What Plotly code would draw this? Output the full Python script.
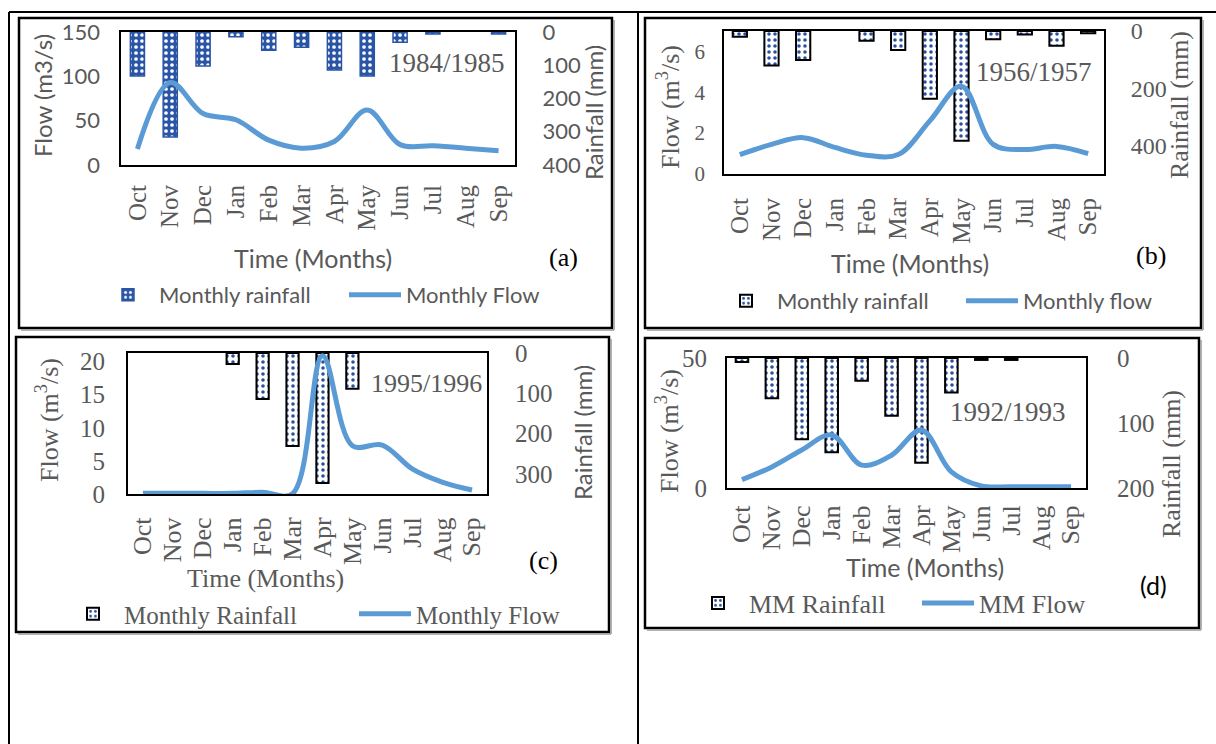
import plotly.graph_objects as go

# ---------------- data ----------------
months = ["Oct", "Nov", "Dec", "Jan", "Feb", "Mar", "Apr", "May", "Jun", "Jul", "Aug", "Sep"]

# (a) 1984/1985
rain_a = [132, 316, 102, 14, 55, 46, 114, 132, 31, 6, 0, 6]
flow_a = [18, 93, 58, 51, 28, 19, 26.5, 62, 23, 21.6, 19, 16]
flow_ticks_a = [0, 50, 100, 150]
rain_ticks_a = [0, 100, 200, 300, 400]

# (b) 1956/1957
rain_b = [20, 121, 101, 0, 34, 66, 237, 384, 29, 12, 52, 8]
flow_b = [0.95, 1.45, 1.78, 1.3, 0.92, 0.95, 2.6, 4.3, 1.45, 1.2, 1.35, 1.0]
flow_ticks_b = [0, 2, 4, 6]
rain_ticks_b = [0, 200, 400]

# (c) 1995/1996
rain_c = [0, 0, 0, 27, 114, 231, 323, 89, 0, 0, 0, 0]
flow_c = [0.1, 0.1, 0.1, 0.1, 0.25, 0.05, 20.9, 7.3, 7.4, 3.8, 1.8, 0.6]
flow_ticks_c = [0, 5, 10, 15, 20]
rain_ticks_c = [0, 100, 200, 300]

# (d) 1992/1993
rain_d = [6, 62, 125, 145, 35, 89, 161, 53, 3, 3, 0, 0]
flow_d = [3.2, 8.1, 14.6, 20.4, 8.8, 12.6, 22.3, 6.2, 0.8, 0.5, 0.5, 0.5]
flow_ticks_d = [0, 50]
rain_ticks_d = [0, 100, 200]

# ---------------- styling / layout ----------------
W, H = 1216, 744
SERIF = "Liberation Serif, Times New Roman, serif"
SANS = "Lato, Carlito, Calibri, sans-serif"
GRAY = "#595959"
LINE_BLUE = "#5B9BD5"
DOT_BLUE = "#2A4FA0"
A_BLUE = "#2A55A5"


def fx(px):
    return px / W


def fy(py):
    return 1 - py / H


panels = [
    dict(rain=rain_a, flow=flow_a, rain_name="Monthly rainfall", flow_name="Monthly Flow",
         box=(121, 32, 515, 165), flow_max=150, rain_max=400,
         flow_ticks=flow_ticks_a, rain_ticks=rain_ticks_a,
         lfont=(SANS, 22), rfont=(SANS, 22), mfont=(SERIF, 25),
         lgap=20, rgap=21, mgap=8, bar_w=0.43,
         bar_style="a",
         leg_font=(SANS, 22), leg=((159, 295), (406, 295)),
         texts=[
             ("Flow (m3/s)", 42, 96, SANS, 24, GRAY, -90),
             ("Rainfall (mm)", 594, 113, SANS, 24, GRAY, -90),
             ("Time (Months)", 313, 258, SANS, 25, GRAY, 0),
             ("(a)", 563, 257, SERIF, 26, "black", 0),
             ("1984/1985", 447, 63, SERIF, 27, GRAY, 0),
         ]),
    dict(rain=rain_b, flow=flow_b, rain_name="Monthly rainfall", flow_name="Monthly flow",
         box=(724, 31, 1104, 174), flow_max=7, rain_max=500,
         flow_ticks=flow_ticks_b, rain_ticks=rain_ticks_b,
         lfont=(SERIF, 21), rfont=(SERIF, 24), mfont=(SERIF, 25),
         lgap=18, rgap=20, mgap=12, bar_w=0.45,
         bar_style="dots",
         leg_font=(SANS, 22), leg=((777, 301), (1023, 301)),
         texts=[
             ("Flow (m<sup>3</sup>/s)", 669, 107, SERIF, 26, GRAY, -90),
             ("Rainfall (mm)", 1180, 105, SERIF, 26, GRAY, -90),
             ("Time (Months)", 910, 263, SANS, 25, GRAY, 0),
             ("(b)", 1151, 255, SERIF, 26, "black", 0),
             ("1956/1957", 1034, 72, SERIF, 27, GRAY, 0),
         ]),
    dict(rain=rain_c, flow=flow_c, rain_name="Monthly Rainfall", flow_name="Monthly Flow",
         box=(128, 353, 487, 494), flow_max=21.3, rain_max=350,
         flow_ticks=flow_ticks_c, rain_ticks=rain_ticks_c,
         lfont=(SERIF, 25), rfont=(SERIF, 25), mfont=(SERIF, 26),
         lgap=22, rgap=21, mgap=11, bar_w=0.41,
         bar_style="dots",
         leg_font=(SERIF, 25), leg=((124, 614), (416, 614)),
         texts=[
             ("Flow (m<sup>3</sup>/s)", 47, 420, SERIF, 26, GRAY, -90),
             ("Rainfall (mm)", 582, 433, SANS, 24, GRAY, -90),
             ("Time (Months)", 265, 578, SERIF, 26, GRAY, 0),
             ("(c)", 543, 560, SERIF, 26, "black", 0),
             ("1995/1996", 426, 383, SERIF, 26, GRAY, 0),
         ]),
    dict(rain=rain_d, flow=flow_d, rain_name="MM Rainfall", flow_name="MM Flow",
         box=(727, 358, 1086, 488), flow_max=50, rain_max=200,
         flow_ticks=flow_ticks_d, rain_ticks=rain_ticks_d,
         lfont=(SERIF, 25), rfont=(SERIF, 25), mfont=(SERIF, 26),
         lgap=19, rgap=24, mgap=5, bar_w=0.42,
         bar_style="dots",
         leg_font=(SERIF, 26), leg=((749, 603), (979, 603)),
         texts=[
             ("Flow (m<sup>3</sup>/s)", 667, 431, SERIF, 26, GRAY, -90),
             ("Rainfall (mm)", 1171, 464, SERIF, 26, GRAY, -90),
             ("Time (Months)", 925, 567, SANS, 25, GRAY, 0),
             ("(d)", 1153, 585, SANS, 25, "black", 0),
             ("1992/1993", 1008, 412, SERIF, 27, GRAY, 0),
         ]),
]

fig = go.Figure()
layout = dict(
    template="none",
    width=W, height=H, autosize=False, margin=dict(l=0, r=0, t=0, b=0, pad=0),
    paper_bgcolor="white", plot_bgcolor="rgba(0,0,0,0)",
    showlegend=True, annotations=[], shapes=[],
)


def yname(n):
    return "yaxis" if n == 1 else f"yaxis{n}"


def yref(n):
    return "y" if n == 1 else f"y{n}"


def lname(n):
    return "legend" if n == 1 else f"legend{n}"


for i, p in enumerate(panels):
    xnum = "" if i == 0 else str(i + 1)
    xr = "x" + xnum
    r, f = 2 * i + 1, 2 * i + 2
    x0, y0, x1, y1 = p["box"]

    if p["bar_style"] == "a":
        marker = dict(color=A_BLUE, line=dict(color=A_BLUE, width=1.5),
                      pattern=dict(shape=".", fgcolor="white", bgcolor=A_BLUE,
                                   size=6, solidity=0.3))
    else:
        marker = dict(color="white", line=dict(color="black", width=2),
                      pattern=dict(shape=".", fgcolor=DOT_BLUE, bgcolor="white",
                                   size=6, solidity=0.28))

    # months with no rainfall have no visible bar
    rain_plot = [v if v > 0 else None for v in p["rain"]]
    fig.add_trace(go.Bar(x=months, y=rain_plot, xaxis=xr, yaxis=yref(r),
                         width=p["bar_w"], marker=marker, name=p["rain_name"],
                         legend=lname(r)))
    fig.add_trace(go.Scatter(x=months, y=p["flow"], xaxis=xr, yaxis=yref(f),
                             mode="lines", name=p["flow_name"], legend=lname(f),
                             line=dict(color=LINE_BLUE, width=5, shape="spline", smoothing=1)))

    layout["xaxis" + xnum] = dict(
        domain=[fx(x0), fx(x1)], anchor=yref(r), type="category",
        categoryorder="array", categoryarray=months, range=[-0.5, 11.5],
        tickmode="array", tickvals=months, ticktext=months,
        showline=True, mirror=True, linecolor="black", linewidth=2,
        ticks="", tickangle=-90, ticklabelstandoff=p["mgap"], automargin=False,
        tickfont=dict(family=p["mfont"][0], size=p["mfont"][1], color=GRAY),
        showgrid=False, zeroline=False, fixedrange=True)
    layout[yname(r)] = dict(
        domain=[fy(y1), fy(y0)], anchor=xr, side="right",
        range=[p["rain_max"], 0], tickmode="array", tickvals=p["rain_ticks"],
        showline=True, mirror=True, linecolor="black", linewidth=2,
        ticks="", ticklabelstandoff=p["rgap"], automargin=False,
        tickfont=dict(family=p["rfont"][0], size=p["rfont"][1], color=GRAY),
        showgrid=False, zeroline=False, fixedrange=True)
    layout[yname(f)] = dict(
        overlaying=yref(r), anchor=xr, side="left",
        range=[0, p["flow_max"]], tickmode="array", tickvals=p["flow_ticks"],
        showline=False, ticks="", ticklabelstandoff=p["lgap"], automargin=False,
        tickfont=dict(family=p["lfont"][0], size=p["lfont"][1], color=GRAY),
        showgrid=False, zeroline=False, fixedrange=True)

    for (tx, ty), n in zip(p["leg"], (r, f)):
        layout[lname(n)] = dict(
            x=fx(tx - 62), xanchor="left", y=fy(ty), yanchor="middle",
            orientation="h", itemwidth=52, bgcolor="rgba(0,0,0,0)", borderwidth=0,
            font=dict(family=p["leg_font"][0], size=p["leg_font"][1], color=GRAY))

    for text, tx, ty, fam, size, col, ang in p["texts"]:
        layout["annotations"].append(dict(
            text=text, x=fx(tx), y=fy(ty), xref="paper", yref="paper",
            xanchor="center", yanchor="middle", showarrow=False, textangle=ang,
            font=dict(family=fam, size=size, color=col)))


# table lines and panel frames (decoration)
def seg(xa, ya, xb, yb, w=2, color="black"):
    return dict(type="line", xref="paper", yref="paper", x0=fx(xa), y0=fy(ya),
                x1=fx(xb), y1=fy(yb), line=dict(color=color, width=w))


def frame(xa, ya, xb, yb):
    # soft grey shadow on the right and bottom, then the black frame
    return [
        seg(xa + 2, yb + 2, xb + 2, yb + 2, 1.5, "#9a9a9a"),
        seg(xb + 2, ya + 2, xb + 2, yb + 2, 1.5, "#9a9a9a"),
        dict(type="rect", xref="paper", yref="paper", x0=fx(xa), y0=fy(ya),
             x1=fx(xb), y1=fy(yb), line=dict(color="black", width=2.5),
             fillcolor="rgba(0,0,0,0)", layer="below"),
    ]


layout["shapes"] += [seg(9, 12, 1216, 12), seg(9, 12, 9, 744), seg(638, 12, 638, 744)]
for fr in [(19, 18, 612, 328), (645, 18, 1201, 328), (16, 337, 609, 632), (645, 338, 1199, 628)]:
    layout["shapes"] += frame(*fr)

fig.update_layout(**layout)
fig.write_html("out.html", config={"displayModeBar": False},
               post_script="document.body.style.margin='0px';")
